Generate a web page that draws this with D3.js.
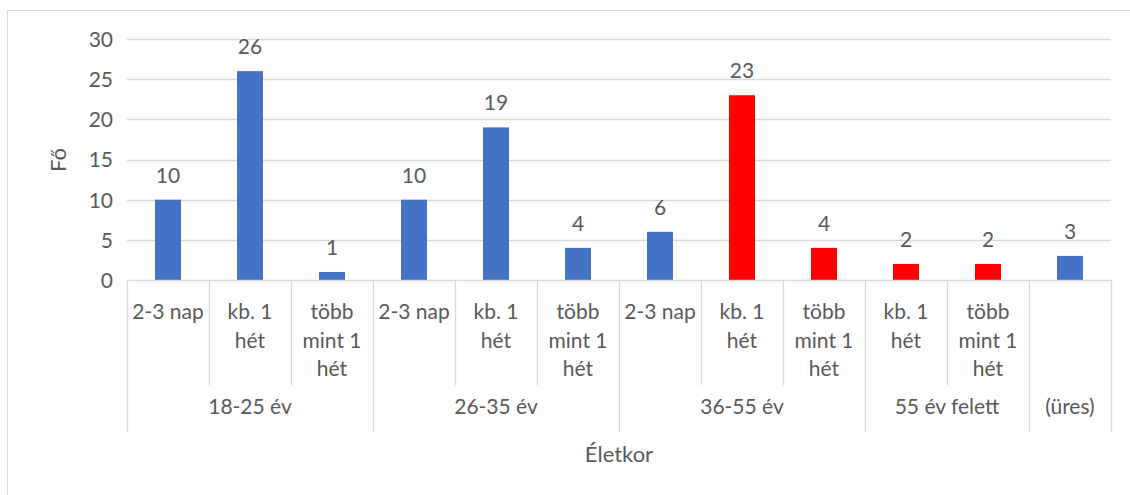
<!DOCTYPE html>
<html><head><meta charset="utf-8">
<script src="https://cdn.jsdelivr.net/npm/d3@7"></script>
<style>
html,body{margin:0;padding:0;background:#fff;}
svg text{font-family:"Lato","Open Sans",sans-serif;fill:#595959;}
</style></head>
<body><svg id="c" width="1130" height="495"></svg>
<script>
// ---- data ----
const groups = ["18-25 év","26-35 év","36-55 év","55 év felett","(üres)"];
const groupOf = [0,0,0,1,1,1,2,2,2,3,3,4];
const subLabels = ["2-3 nap","kb. 1\nhét","több\nmint 1\nhét","2-3 nap","kb. 1\nhét","több\nmint 1\nhét","2-3 nap","kb. 1\nhét","több\nmint 1\nhét","kb. 1\nhét","több\nmint 1\nhét",""];
const values = [10,26,1,10,19,4,6,23,4,2,2,3];
const highlighted = [7,8,9,10];
const yTicks = [0,5,10,15,20,25,30];
const yTitle = "Fő";
const xTitle = "Életkor";

// ---- chart ----
const svg = d3.select("#c");
const pLeft = 127, pRight = 1111, pTop = 39, pBottom = 280;
const fs = 21;

svg.append("rect").attr("x",7.5).attr("y",10.5).attr("width",1130).attr("height",500)
  .attr("fill","#fff").attr("stroke","#d9d9d9").attr("stroke-width",1);

const idx = values.map((d,i)=>i);
const x = d3.scaleBand().domain(idx).range([pLeft,pRight]).paddingInner(0).paddingOuter(0);
const y = d3.scaleLinear().domain([0,30]).range([pBottom,pTop]);

// gridlines
svg.append("g").selectAll("line").data(yTicks.filter(t=>t>0)).join("line")
  .attr("x1",pLeft).attr("x2",pRight).attr("y1",d=>Math.round(y(d))+0.5).attr("y2",d=>Math.round(y(d))+0.5)
  .attr("stroke","#d9d9d9").attr("stroke-width",1.3);

// y axis
const ya = svg.append("g").attr("transform",`translate(${pLeft},0)`)
  .call(d3.axisLeft(y).tickValues(yTicks).tickSize(0).tickPadding(14));
ya.select(".domain").remove();
ya.selectAll("text").attr("font-size",fs).attr("dy","0.35em").style("font-family",'"Lato",sans-serif').attr("fill","#595959");

// bars
const bw = 26;
svg.append("g").selectAll("rect").data(values).join("rect")
  .attr("x",(d,i)=>x(i)+x.bandwidth()/2-bw/2)
  .attr("width",bw)
  .attr("y",d=>y(d)).attr("height",d=>y(0)-y(d))
  .attr("fill",(d,i)=>highlighted.includes(i)?"#ff0000":"#4472c4");

// value labels
svg.append("g").selectAll("text").data(values).join("text")
  .attr("x",(d,i)=>x(i)+x.bandwidth()/2)
  .attr("y",d=>y(d)-17)
  .attr("text-anchor","middle").attr("font-size",fs)
  .text(d=>d);

// category axis lines
const ax = svg.append("g");
ax.append("line").attr("x1",pLeft).attr("x2",pRight).attr("y1",pBottom+0.5).attr("y2",pBottom+0.5)
  .attr("stroke","#d9d9d9").attr("stroke-width",1.3);
const bounds = d3.range(values.length+1);
bounds.forEach(b=>{
  const xp = b<values.length ? x(b) : x(values.length-1)+x.bandwidth();
  const isGroupB = b===0 || b===values.length || groupOf[b]!==groupOf[b-1];
  ax.append("line").attr("x1",Math.round(xp)+0.5).attr("x2",Math.round(xp)+0.5)
    .attr("y1",pBottom).attr("y2",isGroupB?432:385)
    .attr("stroke","#d9d9d9").attr("stroke-width",1.3);
});

// sub labels
subLabels.forEach((lab,i)=>{
  if(!lab) return;
  const cx = x(i)+x.bandwidth()/2;
  const t = svg.append("text").attr("text-anchor","middle").attr("font-size",fs)
    .attr("x",cx).attr("y",312);
  lab.split("\n").forEach((ln,k)=>{
    t.append("tspan").attr("x",cx).attr("dy",k===0?"0.35em":28.5).text(ln);
  });
});

// group labels
groups.forEach((g,gi)=>{
  const members = idx.filter(i=>groupOf[i]===gi);
  const x0 = x(members[0]), x1 = x(members[members.length-1])+x.bandwidth();
  svg.append("text").attr("text-anchor","middle").attr("font-size",fs)
    .attr("x",(x0+x1)/2).attr("y",407).attr("dy","0.35em").text(g);
});

// axis titles
svg.append("text").attr("text-anchor","middle").attr("font-size",fs+1)
  .attr("x",(pLeft+pRight)/2).attr("y",454).attr("dy","0.35em").text(xTitle);
svg.append("text").attr("text-anchor","middle").attr("font-size",fs+1)
  .attr("transform",`translate(58,160) rotate(-90)`).attr("dy","0.35em").text(yTitle);
</script></body></html>
